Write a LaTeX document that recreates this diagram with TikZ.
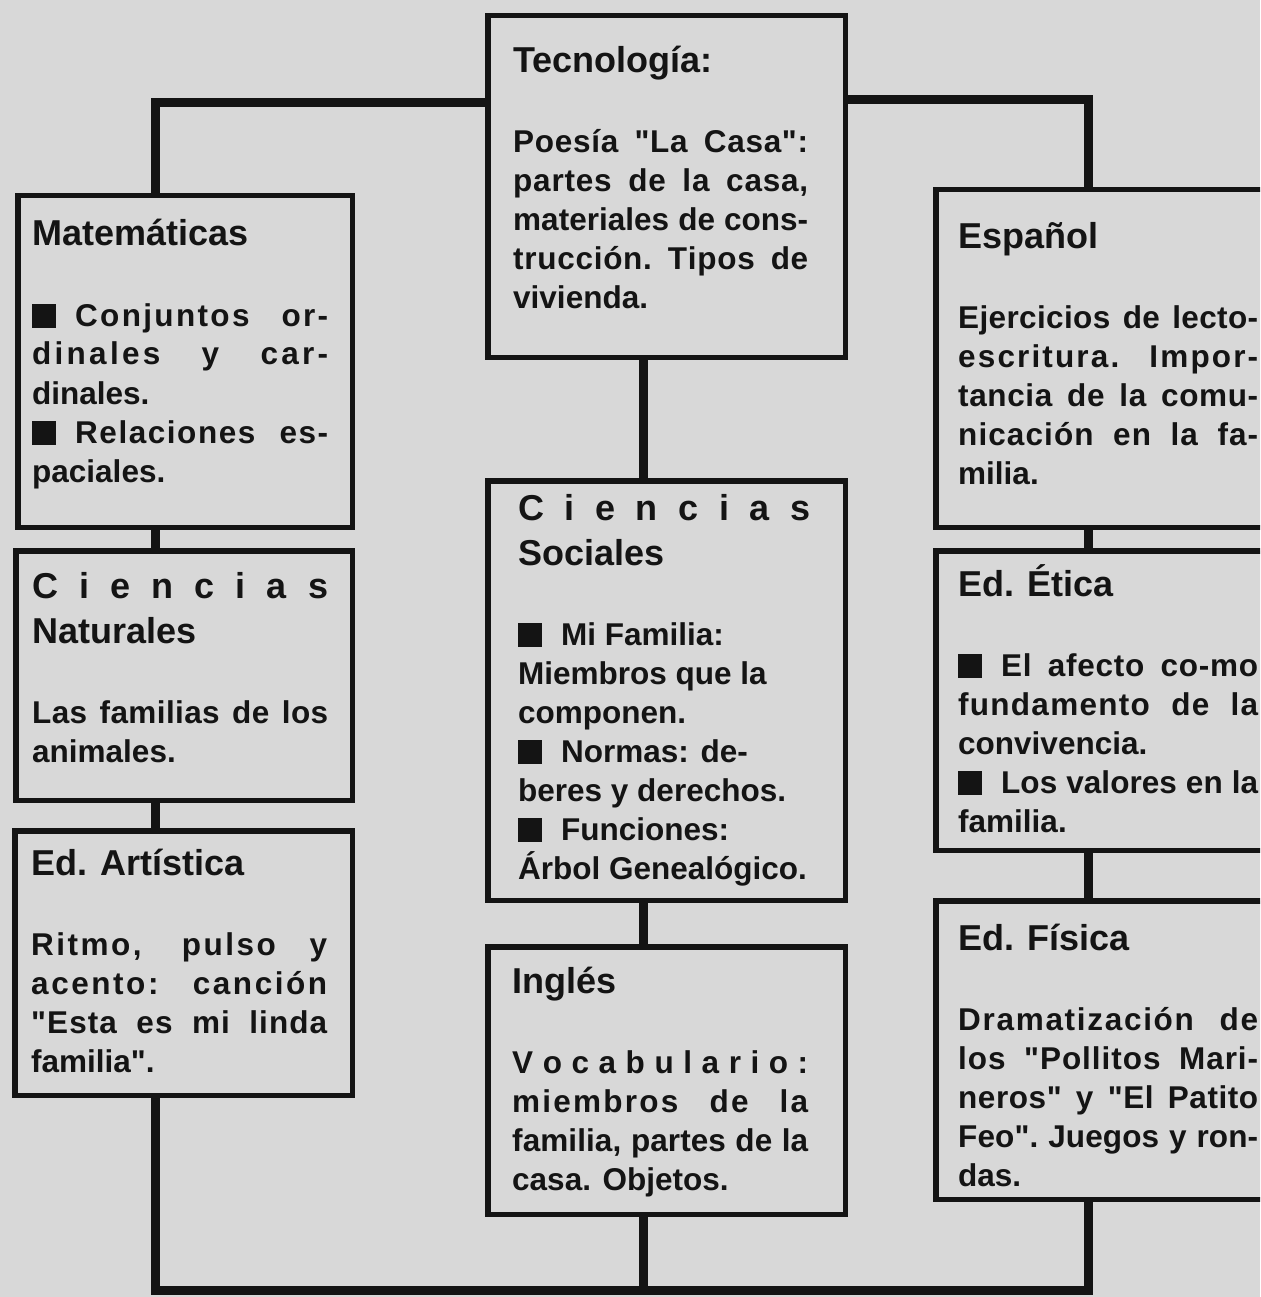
\documentclass[tikz,border=0pt]{standalone}
\usepackage{fontspec}
\newfontfamily\subjfont{Liberation Sans}
\usetikzlibrary{positioning,calc}
\definecolor{papergray}{RGB}{216,216,216}
\definecolor{inkblack}{RGB}{20,20,20}
\newcommand{\titfont}{\subjfont\fontsize{36}{45}\selectfont\bfseries\spaceskip=0pt\xspaceskip=0pt\relax}
\newcommand{\bodfont}{\subjfont\fontsize{31.5}{39}\selectfont\bfseries\spaceskip=0pt\xspaceskip=0pt\relax}
\newcommand{\tbody}{\par\vspace{41pt}\bodfont}
% letters get a little stretch too in justified lines
\newcount\chcnt
\chcnt=65 \loop\XeTeXcharclass\chcnt=7 \advance\chcnt by 1 \ifnum\chcnt<91 \repeat
\chcnt=97 \loop\XeTeXcharclass\chcnt=7 \advance\chcnt by 1 \ifnum\chcnt<123 \repeat
\XeTeXcharclass"E1=7 \XeTeXcharclass"E9=7 \XeTeXcharclass"ED=7 \XeTeXcharclass"F3=7
\XeTeXcharclass"FA=7 \XeTeXcharclass"F1=7 \XeTeXcharclass"C1=7 \XeTeXcharclass"C9=7
\XeTeXcharclass"2C=7 \XeTeXcharclass"2D=7 \XeTeXcharclass"2E=7 \XeTeXcharclass"3A=7
\XeTeXcharclass"22=7
\XeTeXinterchartoks 7 7 = {\hskip 0pt plus 0.1fil\relax}
% justified line: every space stretches
\newcommand{\jl}[1]{\hbox to \hsize{\XeTeXinterchartokenstate=1
  \spaceskip=\fontdimen2\font plus 1fil
  \xspaceskip=\fontdimen2\font plus 1fil\relax #1}\par}
\newcommand{\bsq}{\rule[-2pt]{24pt}{24pt}\hspace{19pt}}
\tikzset{
  subj/.style={draw=inkblack, line width=5.5pt, fill=papergray, anchor=north west, inner sep=0pt},
  subjtxt/.style={anchor=base west, inner sep=0pt, text width=#1, align=left, text=inkblack},
  subjtxt/.default=296pt,
  link/.style={draw=inkblack, line width=9pt}
}
\begin{document}
\begin{tikzpicture}[x=1pt,y=-1pt]
  \useasboundingbox (0,0) rectangle (1260,1297);
  \clip (0,0) rectangle (1260,1297);
  \fill[papergray] (0,0) rectangle (1260,1297);

  % columns of the connectors
  \coordinate (lcol) at (155,0);
  \coordinate (ccol) at (643,0);
  \coordinate (rcol) at (1088,0);
  \coordinate (topl) at (155,103);
  \coordinate (topr) at (1088,100);
  \coordinate (botm) at (643,1290);

  % subject boxes
  \node[subj, minimum width=357.5pt, minimum height=341.5pt] (tec) at (485,13) {};
  \node[subj, minimum width=334.5pt, minimum height=331.5pt] (mat) at (15,193) {};
  \node[subj, minimum width=336.5pt, minimum height=249.5pt] (cn) at (13,548) {};
  \node[subj, minimum width=337.5pt, minimum height=264.5pt] (ea) at (12,828) {};
  \node[subj, minimum width=357.5pt, minimum height=419.5pt] (cs) at (485,478) {};
  \node[subj, minimum width=357.5pt, minimum height=267.5pt] (ing) at (485,944) {};
  \node[subj, minimum width=361.5pt, minimum height=337.5pt] (esp) at (933,187) {};
  \node[subj, minimum width=361.5pt, minimum height=299.5pt] (eti) at (933,548) {};
  \node[subj, minimum width=361.5pt, minimum height=298.5pt] (fis) at (933,898) {};

  % connectors
  \draw[link] (topl -| tec.west) -| (mat.north -| lcol);
  \draw[link] (topr -| tec.east) -| (esp.north -| rcol);
  \draw[link] (mat.south -| lcol) -- (cn.north -| lcol);
  \draw[link] (cn.south -| lcol) -- (ea.north -| lcol);
  \draw[link] (tec.south -| ccol) -- (cs.north -| ccol);
  \draw[link] (cs.south -| ccol) -- (ing.north -| ccol);
  \draw[link] (esp.south -| rcol) -- (eti.north -| rcol);
  \draw[link] (eti.south -| rcol) -- (fis.north -| rcol);
  \draw[link] (ea.south -| lcol) |- (botm) -| (fis.south -| rcol);
  \draw[link] (ing.south -| ccol) -- (botm);

  % texts
  \node[subjtxt=295pt] (tectxt) at (513,73) {\titfont Tecnología:\tbody
    \jl{Poesía "La Casa":}
    \jl{partes de la casa,}
    \jl{materiales de cons-}
    \jl{trucción.  Tipos de}
    vivienda.\par};
  \node[subjtxt] (mattxt) at (32,246) {\titfont Matemáticas\tbody
    \jl{\bsq Conjuntos or-}
    \jl{dinales y car-}
    dinales.\par
    \jl{\bsq Relaciones es-}
    paciales.\par};
  \node[subjtxt] (cntxt) at (32,598) {\titfont\jl{C i e n c i a s}Naturales\tbody
    \jl{Las familias de los}
    animales.\par};
  \node[subjtxt] (eatxt) at (31,875) {\titfont Ed. Artística\tbody
    \jl{Ritmo, pulso y}
    \jl{acento: canción}
    \jl{"Esta es mi linda}
    familia".\par};
  \node[subjtxt=292pt] (cstxt) at (518,520) {\titfont\jl{C i e n c i a s}Sociales\tbody
    \bsq Mi Familia:\par
    Miembros que la\par
    componen.\par
    \bsq Normas:  de-\par
    beres y derechos.\par
    \bsq Funciones:\par
    Árbol Genealógico.\par};
  \node[subjtxt] (ingtxt) at (512,993) {\titfont Inglés\tbody
    \jl{V o c a b u l a r i o :}
    \jl{miembros de la}
    \jl{familia, partes de la}
    casa.  Objetos.\par};
  \node[subjtxt=300pt] (esptxt) at (958,248) {\titfont Español\tbody
    \jl{Ejercicios de lecto-}
    \jl{escritura.  Impor-}
    \jl{tancia de la comu-}
    \jl{nicación en la fa-}
    milia.\par};
  \node[subjtxt=300pt] (etitxt) at (958,596) {\titfont Ed. Ética\tbody
    \jl{\bsq El afecto co-mo}
    \jl{fundamento de la}
    convivencia.\par
    \jl{\bsq Los valores en la}
    familia.\par};
  \node[subjtxt=300pt] (fistxt) at (958,950) {\titfont Ed. Física\tbody
    \jl{Dramatización de}
    \jl{los  "Pollitos Mari-}
    \jl{neros" y "El Patito}
    \jl{Feo". Juegos y ron-}
    das.\par};
\end{tikzpicture}
\end{document}
